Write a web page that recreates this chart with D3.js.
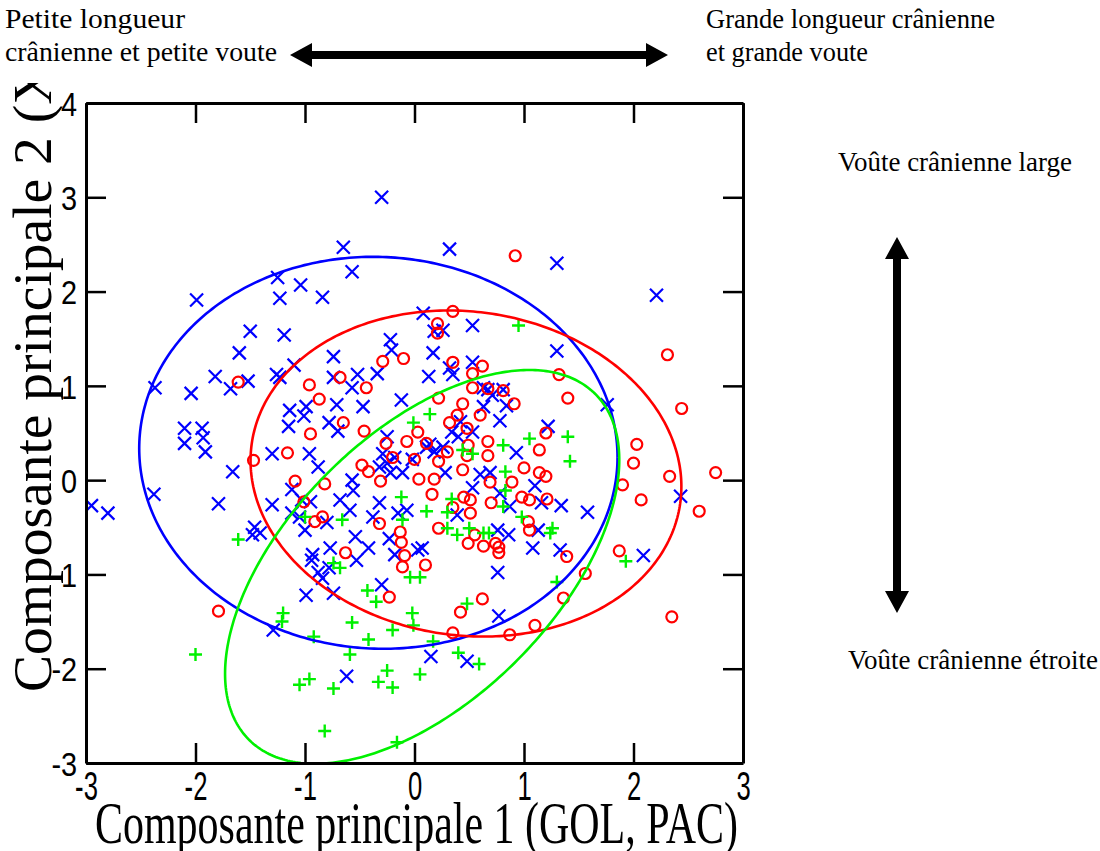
<!DOCTYPE html>
<html>
<head>
<meta charset="utf-8">
<script src="https://cdn.jsdelivr.net/npm/d3@7/dist/d3.min.js"></script>
<style>
body { margin: 0; background: #fff; }
svg { display: block; }
</style>
</head>
<body>
<script>
// axis ticks
const xTicks = [-3, -2, -1, 0, 1, 2, 3]
const yTicks = [-3, -2, -1, 0, 1, 2, 3, 4]

// group 1 (blue crosses), [PC1, PC2]
const bluePoints = [
  [-2.95, -0.27], [-2.80, -0.35], [-2.37, 0.98], [-2.38, -0.15], [-1.79, -0.25],
  [-1.99, 1.91], [-1.25, 2.15], [-1.23, 1.93], [-1.04, 2.07], [-0.84, 1.94],
  [-0.65, 2.47], [-0.57, 2.21], [-0.30, 3.00], [0.32, 2.45], [1.30, 2.30],
  [2.21, 1.96], [0.08, 1.77], [-1.50, 1.58], [-1.19, 1.54], [-1.60, 1.35],
  [-1.82, 1.10], [-2.04, 0.92], [-1.68, 0.97], [-1.52, 1.05], [-1.26, 1.12],
  [-1.23, 1.09], [-1.10, 1.22], [-2.10, 0.55], [-2.10, 0.39], [-1.94, 0.55],
  [-1.93, 0.45], [-1.91, 0.30], [-1.66, 0.09], [-1.30, 0.28], [-1.14, 0.74],
  [-0.99, 0.78], [-1.01, 0.68], [-1.15, 0.57], [-0.78, 0.61], [-0.70, 0.52],
  [-0.71, 0.80], [-0.47, 0.78], [-0.57, 0.98], [-0.52, 1.12], [-0.34, 1.13],
  [-0.74, 1.31], [-0.74, 1.09], [-0.22, 1.49], [-0.21, 1.38], [-0.12, 0.85],
  [-0.96, 0.28], [-0.88, 0.14], [-1.12, -0.10], [-0.57, 0.00], [-0.56, -0.11],
  [-0.29, 0.28], [-0.25, 0.18], [-0.32, 0.14], [-0.18, 0.24], [-0.22, 0.08],
  [-0.11, 0.08], [-0.25, 0.46], [-0.02, 0.22], [0.17, 1.35], [0.18, 1.58],
  [0.13, 1.10], [0.11, 0.35], [0.14, 0.38], [0.18, 0.30], [0.26, 0.35],
  [0.28, 0.08], [-1.30, -0.26], [-1.03, -0.21], [-0.95, -0.23], [-1.12, -0.35],
  [-1.00, -0.53], [-1.05, -0.39], [-0.80, -0.45], [-0.68, -0.21], [-0.59, -0.32],
  [-1.46, -0.50], [-1.48, -0.58], [-1.41, -0.56], [-0.32, -0.24], [-0.38, -0.39],
  [-0.15, -0.35], [-0.07, -0.32], [-0.54, -0.60], [-0.42, -0.72], [-0.53, -0.85],
  [-0.23, -0.62], [-0.18, -0.79], [0.03, -0.74], [0.07, -0.72], [-0.93, -0.79],
  [-0.94, -0.85], [-0.77, -0.72], [-0.78, -0.93], [-0.88, -0.98], [-0.84, -1.04],
  [-0.99, -1.22], [-0.74, -1.20], [-0.30, -1.11], [-1.29, -1.59], [0.15, -1.87],
  [0.26, 1.59], [0.53, 1.64], [1.30, 1.37], [0.53, 1.25], [0.32, 1.19],
  [0.35, 1.12], [0.63, 0.98], [0.67, 0.96], [0.71, 0.90], [0.81, 0.96],
  [0.84, 0.79], [0.63, 0.78], [0.78, 0.63], [1.76, 0.80], [1.22, 0.57],
  [0.42, 0.62], [0.34, 0.51], [0.40, 0.46], [0.53, 0.51], [0.93, 0.29],
  [0.60, 0.06], [0.69, 0.08], [0.53, -0.08], [0.78, -0.14], [1.10, -0.06],
  [1.16, -0.24], [1.34, -0.27], [1.58, -0.34], [0.87, -0.28], [0.39, -0.37],
  [0.76, -0.53], [0.86, -0.58], [1.13, -0.53], [1.08, -0.72], [1.33, -0.74],
  [2.09, -0.80], [0.76, -0.98], [0.77, -1.44], [0.48, -1.92], [2.43, -0.17],
  [-0.62, -2.08]
]

// group 2 (red circles)
const redPoints = [
  [0.92, 2.38], [0.35, 1.79], [-1.61, 1.04], [-0.96, 1.01], [-0.87, 0.86],
  [-0.68, 1.09], [-0.44, 0.98], [-0.65, 0.61], [-0.95, 0.49], [-0.46, 0.52],
  [-0.29, 1.26], [-0.10, 1.29], [-0.26, 0.39], [-0.07, 0.41], [-1.16, 0.29],
  [-1.47, 0.21], [-0.48, 0.16], [-0.42, 0.09], [-0.31, -0.01], [-0.20, 0.24],
  [-1.09, -0.01], [-0.82, -0.04], [0.21, 1.66], [0.21, 1.56], [0.22, 0.87],
  [0.03, 0.51], [0.11, 0.39], [0.22, 0.20], [0.00, 0.22], [0.04, 0.01],
  [0.18, 0.01], [0.16, -0.15], [-0.84, -0.39], [-0.91, -0.44], [-0.32, -0.46],
  [-0.13, -0.55], [-0.12, -0.66], [-0.09, -0.80], [-0.11, -0.92], [0.10, -0.90],
  [-0.63, -0.77], [-0.23, -1.24], [0.22, -0.51], [-1.01, -0.23], [0.35, 1.25],
  [0.62, 1.21], [0.53, 1.13], [0.53, 0.98], [0.67, 0.97], [0.81, 0.95],
  [0.91, 0.81], [0.44, 0.81], [0.39, 0.69], [0.60, 0.69], [0.32, 0.61],
  [0.48, 0.55], [1.32, 1.12], [1.40, 0.87], [1.20, 0.50], [1.14, 0.32],
  [0.67, 0.41], [0.49, 0.37], [0.67, 0.26], [0.48, 0.26], [0.30, 0.30],
  [0.44, 0.11], [1.00, 0.13], [1.14, 0.08], [1.20, 0.04], [0.89, -0.02],
  [0.69, -0.02], [2.03, 0.38], [2.00, 0.18], [1.90, -0.05], [2.07, -0.21],
  [0.45, -0.18], [0.51, -0.21], [0.70, -0.24], [0.98, -0.18], [1.05, -0.21],
  [1.21, -0.20], [0.51, -0.35], [0.35, -0.29], [1.04, -0.44], [1.05, -0.53],
  [0.55, -0.58], [0.49, -0.67], [0.63, -0.70], [0.74, -0.67], [0.77, -0.71],
  [0.77, -0.77], [1.39, -0.81], [1.87, -0.75], [1.56, -0.99], [1.36, -1.25],
  [0.62, -1.26], [0.42, -1.40], [1.10, -1.54], [0.87, -1.64], [0.35, -1.62],
  [2.31, 1.33], [2.44, 0.76], [2.33, 0.04], [2.75, 0.08], [2.60, -0.33],
  [2.35, -1.45], [-1.79, -1.39]
]

// group 3 (green plus signs)
const greenPoints = [
  [0.14, 0.70], [-0.01, 0.61], [-0.12, -0.18], [0.11, -0.33], [-0.11, -0.42],
  [-0.66, -0.42], [-1.00, -0.39], [-1.61, -0.63], [-0.74, -0.88], [-0.68, -0.93],
  [-0.04, -1.03], [0.05, -1.03], [-0.43, -1.17], [-0.35, -1.29], [-1.20, -1.41],
  [-1.21, -1.50], [-0.57, -1.51], [-0.20, -1.59], [-0.02, -1.41], [-0.01, -1.54],
  [-0.92, -1.66], [-0.42, -1.69], [0.17, -1.71], [-0.59, -1.85], [0.30, -0.34],
  [0.30, -0.51], [0.95, 1.64], [1.05, 0.44], [1.40, 0.46], [1.42, 0.20],
  [0.81, 0.37], [0.44, 0.32], [0.53, 0.28], [0.83, 0.09], [0.83, -0.11],
  [0.81, -0.28], [0.34, -0.20], [0.98, -0.39], [0.50, -0.51], [0.39, -0.58],
  [0.63, -0.56], [0.68, -0.56], [1.26, -0.51], [1.24, -0.56], [1.93, -0.86],
  [1.30, -1.08], [0.48, -1.31], [0.40, -1.83], [0.59, -1.95], [0.05, -2.06],
  [-2.00, -1.85], [-0.25, -2.02], [-0.33, -2.14], [-0.20, -2.20], [-0.74, -2.21],
  [-0.96, -2.11], [-1.05, -2.17], [-0.82, -2.66], [-0.16, -2.78]
]

// confidence ellipses: [centre x, centre y, var x, var y, cov xy]
const blueEllipse = [-0.33, 0.29, 4.77, 4.32, -0.10]
const redEllipse = [0.47, 0.07, 3.87, 2.99, -0.27]
const greenEllipse = [0.07, -0.92, 3.24, 4.36, 2.04]

// annotation texts round the plot
const noteTexts = [
  'Petite longueur',
  'crânienne et petite voute',
  'Grande longueur crânienne',
  'et grande voute',
  'Voûte crânienne large',
  'Voûte crânienne étroite'
]

const W = 1100
const H = 851
const plot = { left: 86, right: 743, top: 103, bottom: 763 }
const serif = 'Liberation Serif, Times New Roman, serif'
const sans = 'Liberation Sans, Arial, sans-serif'

const svg = d3.select('body').append('svg')
  .attr('width', W)
  .attr('height', H)

const x = d3.scaleLinear().domain([-3, 3]).range([plot.left, plot.right])
const y = d3.scaleLinear().domain([-3, 4]).range([plot.bottom, plot.top])

svg.append('clipPath').attr('id', 'plotclip')
  .append('rect')
  .attr('x', plot.left).attr('y', plot.top)
  .attr('width', plot.right - plot.left).attr('height', plot.bottom - plot.top)

// points
const pts = svg.append('g').attr('clip-path', 'url(#plotclip)')
const s = 6.5

pts.selectAll('path.blue')
  .data(bluePoints)
  .enter().append('path')
  .attr('class', 'blue')
  .attr('d', d => {
    const cx = x(d[0]); const cy = y(d[1])
    return 'M' + (cx - s) + ',' + (cy - s) + 'L' + (cx + s) + ',' + (cy + s) +
      'M' + (cx - s) + ',' + (cy + s) + 'L' + (cx + s) + ',' + (cy - s)
  })
  .attr('stroke', '#0000ff')
  .attr('stroke-width', 2.2)
  .attr('fill', 'none')

pts.selectAll('circle.red')
  .data(redPoints)
  .enter().append('circle')
  .attr('class', 'red')
  .attr('cx', d => x(d[0]))
  .attr('cy', d => y(d[1]))
  .attr('r', 5.5)
  .attr('stroke', '#ff0000')
  .attr('stroke-width', 2.2)
  .attr('fill', 'none')

pts.selectAll('path.green')
  .data(greenPoints)
  .enter().append('path')
  .attr('class', 'green')
  .attr('d', d => {
    const cx = x(d[0]); const cy = y(d[1])
    return 'M' + (cx - s) + ',' + cy + 'L' + (cx + s) + ',' + cy +
      'M' + cx + ',' + (cy - s) + 'L' + cx + ',' + (cy + s)
  })
  .attr('stroke', '#00f000')
  .attr('stroke-width', 2.4)
  .attr('fill', 'none')

// ellipses, traced from the covariance through its cholesky factor
function ellipsePoints (e) {
  const l11 = Math.sqrt(e[2])
  const l21 = e[4] / l11
  const l22 = Math.sqrt(e[3] - l21 * l21)
  return d3.range(0, 361).map(deg => {
    const t = deg * Math.PI / 180
    return [e[0] + l11 * Math.cos(t), e[1] + l21 * Math.cos(t) + l22 * Math.sin(t)]
  })
}

const line = d3.line().x(d => x(d[0])).y(d => y(d[1]))
const ell = svg.append('g').attr('clip-path', 'url(#plotclip)')
;[[blueEllipse, '#0000ff'], [redEllipse, '#ff0000'], [greenEllipse, '#00f000']].forEach(([e, c]) => {
  ell.append('path')
    .attr('d', line(ellipsePoints(e)))
    .attr('fill', 'none')
    .attr('stroke', c)
    .attr('stroke-width', 2.6)
})

// axes: inward ticks on all four sides, plain hyphen for negatives
const tickLen = 20
const fmt = d => String(d)
const axisStyle = g => {
  g.selectAll('.domain').attr('stroke', '#000').attr('stroke-width', 3)
  g.selectAll('.tick line').attr('stroke', '#000').attr('stroke-width', 2.5)
}

svg.append('g')
  .attr('transform', 'translate(0,' + plot.bottom + ')')
  .call(d3.axisBottom(x).tickValues(xTicks).tickFormat(fmt).tickSize(-tickLen).tickSizeOuter(0).tickPadding(0))
  .call(axisStyle)
  .call(g => g.selectAll('.tick text')
    .attr('font-family', sans)
    .attr('font-size', 40)
    .attr('fill', '#000')
    .attr('y', 37)
    .attr('dy', 0)
    .attr('transform', 'scale(0.64,1)'))

svg.append('g')
  .attr('transform', 'translate(0,' + plot.top + ')')
  .call(d3.axisTop(x).tickValues(xTicks).tickSize(-tickLen).tickSizeOuter(0).tickFormat(''))
  .call(axisStyle)

svg.append('g')
  .attr('transform', 'translate(' + plot.left + ',0)')
  .call(d3.axisLeft(y).tickValues(yTicks).tickFormat(fmt).tickSize(-tickLen).tickSizeOuter(0).tickPadding(0))
  .call(axisStyle)
  .call(g => g.selectAll('.tick text')
    .attr('font-family', sans)
    .attr('font-size', 34)
    .attr('fill', '#000')
    .attr('x', -10.5)
    .attr('dy', '0.36em')
    .attr('transform', 'scale(0.85,1)'))

svg.append('g')
  .attr('transform', 'translate(' + plot.right + ',0)')
  .call(d3.axisRight(y).tickValues(yTicks).tickSize(-tickLen).tickSizeOuter(0).tickFormat(''))
  .call(axisStyle)

// axis titles
svg.append('text')
  .attr('x', 95)
  .attr('y', 843)
  .attr('font-family', serif)
  .attr('font-size', 60)
  .attr('textLength', 643)
  .attr('lengthAdjust', 'spacingAndGlyphs')
  .text('Composante principale 1 (GOL, PAC)')

// the y title runs off the top of the figure in the original, so clip it there
svg.append('clipPath').attr('id', 'ytitleclip')
  .append('rect').attr('x', 0).attr('y', 83).attr('width', 80).attr('height', 700)

svg.append('g')
  .attr('clip-path', 'url(#ytitleclip)')
  .append('text')
  .attr('transform', 'translate(51,692) rotate(-90)')
  .attr('font-family', serif)
  .attr('font-size', 55.5)
  .attr('fill', '#000')
  .text('Composante principale 2 (XCB)')

// annotations and arrows
const noteX = [5, 5, 706, 706, 838, 848]
const noteY = [28, 61, 28, 61, 171, 669]
const noteLen = [180, 272, 289, 162, 234, 250]
svg.selectAll('text.note')
  .data(noteTexts)
  .enter().append('text')
  .attr('class', 'note')
  .attr('x', (d, i) => noteX[i])
  .attr('y', (d, i) => noteY[i])
  .attr('font-family', serif)
  .attr('font-size', 27)
  .attr('textLength', (d, i) => noteLen[i])
  .attr('lengthAdjust', 'spacingAndGlyphs')
  .attr('fill', '#000')
  .text(d => d)

function doubleArrow (x1, y1, x2, y2) {
  const len = Math.hypot(x2 - x1, y2 - y1)
  const head = 22
  const hw = 12
  const sw = 4
  const g = svg.append('g')
    .attr('transform', 'translate(' + x1 + ',' + y1 + ') rotate(' + (Math.atan2(y2 - y1, x2 - x1) * 180 / Math.PI) + ')')
  g.append('path')
    .attr('d', 'M0,0L' + head + ',' + (-hw) + 'L' + head + ',' + (-sw) +
      'L' + (len - head) + ',' + (-sw) + 'L' + (len - head) + ',' + (-hw) +
      'L' + len + ',0L' + (len - head) + ',' + hw + 'L' + (len - head) + ',' + sw +
      'L' + head + ',' + sw + 'L' + head + ',' + hw + 'Z')
    .attr('fill', '#000')
}
doubleArrow(290, 55, 668, 55)
doubleArrow(897, 237, 897, 613)
</script>
</body>
</html>
